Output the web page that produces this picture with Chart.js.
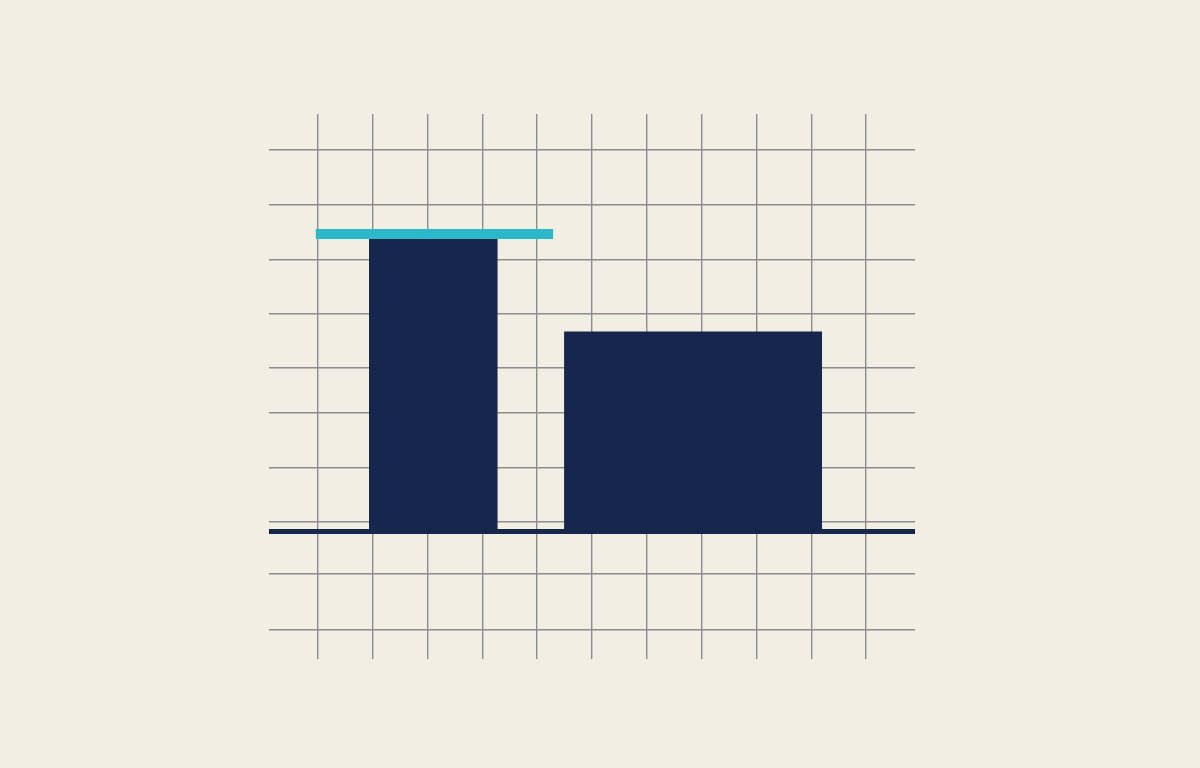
<!DOCTYPE html>
<html>
<head>
<meta charset="utf-8">
<script src="https://cdn.jsdelivr.net/npm/chart.js@4.4.1/dist/chart.umd.min.js"></script>
<style>
  html, body { margin: 0; padding: 0; background: #f3eee3; }
  #wrap { width: 1200px; height: 768px; }
</style>
</head>
<body>
<div id="wrap"><canvas id="barcanvas"></canvas></div>
<script>
// values (x in grid columns, y in tenths of px above baseline)
var barNames = ['A', 'B'];
var barStarts = [1.93, 5.49];
var barEnds = [4.28, 10.2];
var barValues = [29.3, 20.0];
var targetStart = 0.96;
var targetEnd = 5.29;
var targetValue = 29.75;
var xTicks = [1, 2, 3, 4, 5, 6, 7, 8, 9, 10, 11];
var yTicks = [38.15, 32.65, 27.15, 21.75, 16.35, 11.85, 6.35, 0.95, 0, -4.25, -9.85];

var navy = '#17264c';
var cyan = '#2bb9ca';
var gridGray = '#8b8c92';

var datasets = [
  {
    label: 'target',
    data: [{x: targetStart, y: targetValue}, {x: targetEnd, y: targetValue}],
    borderColor: cyan,
    borderWidth: 10,
    borderCapStyle: 'butt',
    pointRadius: 0,
    fill: false,
    order: 0
  }
];
for (var i in barNames) {
  datasets.push({
    label: barNames[i],
    data: [{x: barStarts[i], y: barValues[i]}, {x: barEnds[i], y: barValues[i]}],
    backgroundColor: navy,
    borderWidth: 0,
    pointRadius: 0,
    fill: 'origin',
    order: 1
  });
}

var ctx = document.getElementById('barcanvas');
var chart = new Chart(ctx, {
  type: 'line',
  data: { datasets: datasets },
  options: {
    responsive: true,
    maintainAspectRatio: false,
    animation: false,
    layout: { padding: { left: 269, right: 285, top: 114, bottom: 109 } },
    plugins: { legend: { display: false }, tooltip: { enabled: false } },
    scales: {
      x: {
        type: 'linear',
        min: 0.106,
        max: 11.894,
        afterBuildTicks: function(scale) {
          scale.ticks = xTicks.map(function(v) { return {value: v}; });
        },
        ticks: { display: false },
        border: { display: false },
        grid: { color: gridGray, lineWidth: 1.4, drawTicks: false }
      },
      y: {
        type: 'linear',
        min: -12.75,
        max: 41.75,
        afterBuildTicks: function(scale) {
          scale.ticks = yTicks.map(function(v) { return {value: v}; });
        },
        ticks: { display: false },
        border: { display: false },
        grid: {
          drawTicks: false,
          color: function(c) { return c.tick && c.tick.value === 0 ? navy : gridGray; },
          lineWidth: function(c) { return c.tick && c.tick.value === 0 ? 5 : 1.4; }
        }
      }
    }
  }
});
</script>
</body>
</html>
